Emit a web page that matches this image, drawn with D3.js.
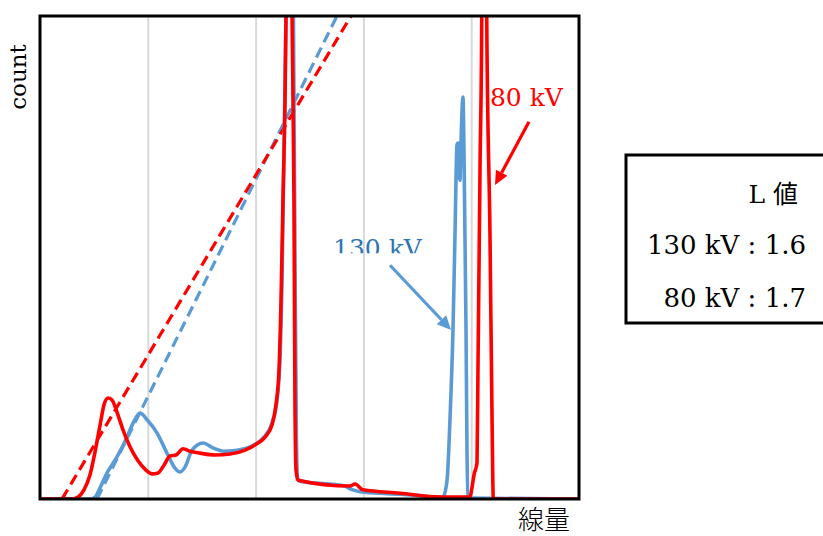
<!DOCTYPE html>
<html>
<head>
<meta charset="utf-8">
<script src="https://cdn.jsdelivr.net/npm/d3@7"></script>
<style>
  html, body { margin: 0; padding: 0; background: #fff; }
  svg { display: block; }
</style>
</head>
<body>
<svg id="chart" width="823" height="536"></svg>
<script>
// Spectrum at 130 kV: [dose, count]
const spectrum130 = [
  [0, 0], [0.464, 0], [0.510, 0.4], [0.557, 2.3], [0.622, 5.4], [0.714, 8.7],
  [0.807, 12.8], [0.863, 15.7], [0.928, 17.8], [0.993, 16.4], [1.085, 13.7],
  [1.178, 9.5], [1.252, 6.4], [1.299, 5.6], [1.345, 6.6], [1.410, 10.1],
  [1.512, 11.6], [1.605, 10.6], [1.698, 9.9], [1.827, 10.1], [1.948, 10.8],
  [2.069, 12.6], [2.152, 15.7], [2.199, 20.5], [2.226, 28.8], [2.245, 45.3],
  [2.263, 72.3], [2.282, 100], [2.287, 112], [2.347, 112], [2.351, 100],
  [2.365, 51.6], [2.379, 12.2], [2.389, 4.3], [2.412, 3.7], [2.829, 2.7],
  [2.876, 2.1], [3.015, 1.4], [3.340, 1.0], [3.738, 0.4], [3.776, 3.9],
  [3.803, 16.4], [3.831, 35.0], [3.850, 55.1], [3.868, 73.3], [3.878, 73.7],
  [3.887, 67.1], [3.896, 66.0], [3.906, 74.3], [3.924, 83.2], [3.933, 72.3],
  [3.952, 35.0], [3.961, 10.1], [3.971, 0.4], [3.989, 0.2], [5, 0]
];

// Spectrum at 80 kV: [dose, count]
const spectrum80 = [
  [0, 0], [0.297, 0], [0.353, 0.4], [0.408, 1.9], [0.464, 5.0], [0.510, 9.7],
  [0.557, 15.3], [0.594, 19.5], [0.631, 20.9], [0.668, 20.5], [0.714, 18.0],
  [0.770, 14.3], [0.835, 10.8], [0.909, 7.9], [0.983, 6.0], [1.039, 5.2],
  [1.095, 5.4], [1.150, 7.0], [1.206, 8.9], [1.262, 9.1], [1.327, 10.4],
  [1.391, 9.9], [1.484, 9.5], [1.623, 9.1], [1.763, 9.3], [1.902, 10.1],
  [1.994, 11.2], [2.087, 12.8], [2.152, 15.3], [2.189, 19.5], [2.217, 26.7],
  [2.236, 41.2], [2.254, 61.9], [2.273, 82.6], [2.282, 100], [2.287, 112],
  [2.333, 112], [2.338, 100], [2.356, 61.9], [2.365, 20.5], [2.375, 6.0],
  [2.393, 3.9], [2.876, 2.7], [2.922, 3.1], [2.996, 1.9], [3.340, 1.2],
  [3.711, 0.4], [3.952, 0.4], [3.989, 0.4], [4.007, 2.3], [4.026, 5.0],
  [4.054, 7.5], [4.063, 27.3], [4.082, 68.7], [4.098, 100], [4.100, 112],
  [4.142, 112], [4.144, 100], [4.174, 55.1], [4.195, 13.7], [4.205, 0], [5, 0]
];

// Straight-line fits on the rising low-dose edge
const fit130 = [[0.529, 0], [2.755, 100]];
const fit80 = [[0.204, 0], [2.885, 100]];

const xTicks = [1, 2, 3, 4];

// L values per tube voltage
const legendTitle = "L 値";
const legendRows = ["130 kV : 1.6", "80 kV : 1.7"];

// Callouts: label position, arrow start, arrow tip (in data units)
const callouts = [
  { text: "130 kV", color: "#2E75B6", arrowColor: "#5B9BD5",
    label: [2.718, 50.1], from: [3.247, 48.4], to: [3.813, 35.0], clipTop: 60, clipBottom: 50.9 },
  { text: "80 kV", color: "#FF0000", arrowColor: "#FF0000",
    label: [4.174, 81.4], from: [4.536, 78.1], to: [4.221, 65.0] }
];

const svg = d3.select("#chart");
const plotLeft = 40, plotRight = 579, plotTop = 16, plotBottom = 499;

const x = d3.scaleLinear().domain([0, 5]).range([plotLeft, plotRight]);
const y = d3.scaleLinear().domain([0, 100]).range([plotBottom, plotTop]);

const serif = "'DejaVu Serif', 'Noto Sans CJK JP', serif";

const defs = svg.append("defs");
defs.append("clipPath").attr("id", "plotClip")
  .append("rect").attr("x", plotLeft).attr("y", plotTop)
  .attr("width", plotRight - plotLeft).attr("height", plotBottom - plotTop);

// vertical gridlines
svg.append("g")
  .attr("transform", `translate(0,${plotBottom})`)
  .call(d3.axisBottom(x).tickValues(xTicks).tickSize(-(plotBottom - plotTop)).tickFormat(""))
  .call(g => g.select(".domain").remove())
  .call(g => g.selectAll(".tick line").attr("stroke", "#d9d9d9").attr("stroke-width", 2));

const line = d3.line().x(d => x(d[0])).y(d => y(d[1])).curve(d3.curveMonotoneX);
const straight = d3.line().x(d => x(d[0])).y(d => y(d[1]));

const plot = svg.append("g").attr("clip-path", "url(#plotClip)");

plot.append("path").datum(fit130).attr("d", straight)
  .attr("fill", "none").attr("stroke", "#5B9BD5").attr("stroke-width", 3.2)
  .attr("stroke-dasharray", "11,6");
plot.append("path").datum(fit80).attr("d", straight)
  .attr("fill", "none").attr("stroke", "#FF0000").attr("stroke-width", 3.2)
  .attr("stroke-dasharray", "11,6");

plot.append("path").datum(spectrum130).attr("d", line)
  .attr("fill", "none").attr("stroke", "#5B9BD5").attr("stroke-width", 3.6)
  .attr("stroke-linejoin", "round");
plot.append("path").datum(spectrum80).attr("d", line)
  .attr("fill", "none").attr("stroke", "#FF0000").attr("stroke-width", 3.6)
  .attr("stroke-linejoin", "round");

// plot frame
svg.append("rect").attr("x", plotLeft).attr("y", plotTop)
  .attr("width", plotRight - plotLeft).attr("height", plotBottom - plotTop)
  .attr("fill", "none").attr("stroke", "#000").attr("stroke-width", 3);

// callouts
callouts.forEach((c, i) => {
  const x0 = x(c.from[0]), y0 = y(c.from[1]);
  const x1 = x(c.to[0]), y1 = y(c.to[1]);
  const ang = Math.atan2(y1 - y0, x1 - x0);
  const headLen = 14, headW = 6.5;
  const bx = x1 - headLen * Math.cos(ang), by = y1 - headLen * Math.sin(ang);
  svg.append("line").attr("x1", x0).attr("y1", y0).attr("x2", bx).attr("y2", by)
    .attr("stroke", c.arrowColor).attr("stroke-width", 3.2);
  const px = -Math.sin(ang), py = Math.cos(ang);
  svg.append("polygon")
    .attr("points", [[x1, y1], [bx + px * headW, by + py * headW], [bx - px * headW, by - py * headW]]
      .map(p => p.join(",")).join(" "))
    .attr("fill", c.arrowColor);

  const t = svg.append("text")
    .attr("x", x(c.label[0])).attr("y", y(c.label[1]))
    .attr("fill", c.color).attr("font-family", serif).attr("font-size", 25)
    .text(c.text);
  if (c.clipBottom !== undefined) {
    const id = "labelClip" + i;
    defs.append("clipPath").attr("id", id)
      .append("rect").attr("x", 0).attr("y", y(c.clipTop))
      .attr("width", 823).attr("height", y(c.clipBottom) - y(c.clipTop));
    t.attr("clip-path", `url(#${id})`);
  }
});

// axis titles
svg.append("text")
  .attr("transform", "translate(26,77) rotate(-90)")
  .attr("text-anchor", "middle")
  .attr("font-family", serif).attr("font-size", 23)
  .text("count");

svg.append("text")
  .attr("x", 544).attr("y", 529).attr("text-anchor", "middle")
  .attr("font-family", "'Noto Sans CJK JP', sans-serif").attr("font-size", 26)
  .attr("font-weight", 300)
  .text("線量");

// L-value box
const box = svg.append("g");
box.append("rect").attr("x", 626).attr("y", 155).attr("width", 230).attr("height", 168)
  .attr("fill", "#fff").attr("stroke", "#000").attr("stroke-width", 3);
box.append("text").attr("x", 798).attr("y", 203).attr("text-anchor", "end")
  .attr("font-family", serif).attr("font-size", 25).text(legendTitle);
legendRows.forEach((r, i) => {
  box.append("text").attr("x", 806).attr("y", 254 + i * 53).attr("text-anchor", "end")
    .attr("font-family", serif).attr("font-size", 26).text(r);
});
</script>
</body>
</html>
